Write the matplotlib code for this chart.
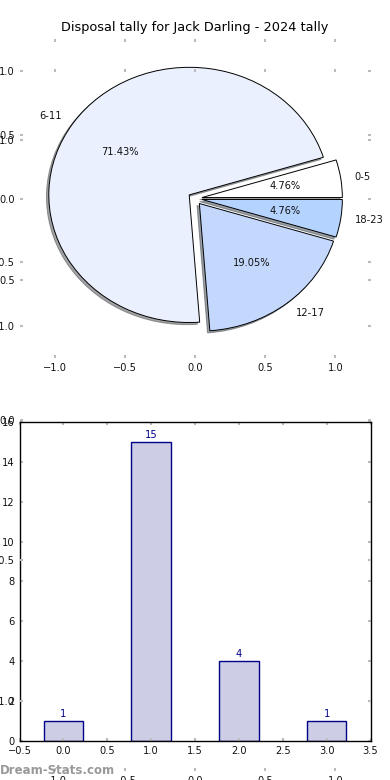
import matplotlib
matplotlib.use("Agg")
import matplotlib.pyplot as plt

# Data
categories = ["0-5", "6-11", "12-17", "18-23"]
counts = [1, 15, 4, 1]
bar_positions = [0, 1, 2, 3]
pie_colors = ["#ffffff", "#eaf0fe", "#c4d8fe", "#b4d4ff"]
explode = [0.05, 0.05, 0.05, 0.05]
title = "Disposal tally for Jack Darling - 2024 tally"
watermark = "Dream-Stats.com"
pie_ticks = [-1.0, -0.5, 0.0, 0.5, 1.0]

TICK_FS = 7.1
TICK_COLOR = "#bbbbbb"

fig = plt.figure(figsize=(3.9, 7.8), dpi=100)
fig.patch.set_facecolor("white")


def style_ticks(ax):
    ax.tick_params(axis="both", which="both", direction="in", top=True, right=True,
                   color=TICK_COLOR, labelcolor="#111111", labelsize=TICK_FS,
                   length=2.5, width=1.5, pad=3.5)


# Pie axes
ax_pie = fig.add_axes([0.05, 0.541, 0.9, 0.409])
ax_pie.pie(counts, labels=categories, colors=pie_colors, explode=explode,
           autopct="%.2f%%", shadow={"ox": -0.012, "oy": -0.012},
           startangle=0, counterclock=True,
           wedgeprops=dict(edgecolor="black", linewidth=0.7),
           textprops=dict(fontsize=TICK_FS, color="#111111"), frame=True)
ax_pie.set_xlim(-1.25, 1.25)
ax_pie.set_ylim(-1.25, 1.25)
ax_pie.set_aspect("auto")
ax_pie.set_xticks(pie_ticks)
ax_pie.set_yticks(pie_ticks)
ax_pie.set_frame_on(False)
style_ticks(ax_pie)
ax_pie.set_title(title, fontsize=9.3, color="black", pad=6)

# Bar axes
ax_bar = fig.add_axes([0.05, 0.05, 0.9, 0.409])
ax_bar.bar(bar_positions, counts, width=0.45, color="#cdcde6", edgecolor="#000088",
           linewidth=1.0)
for x, v in zip(bar_positions, counts):
    ax_bar.text(x, v + 0.12, str(v), ha="center", va="bottom", fontsize=TICK_FS,
                color="#000088")
ax_bar.set_xlim(-0.5, 3.5)
ax_bar.set_ylim(0, 16)
ax_bar.set_xticks([-0.5, 0.0, 0.5, 1.0, 1.5, 2.0, 2.5, 3.0, 3.5])
ax_bar.set_yticks([0, 2, 4, 6, 8, 10, 12, 14, 16])
for sp in ax_bar.spines.values():
    sp.set_color("black")
    sp.set_linewidth(1.0)
style_ticks(ax_bar)

# Background empty axes (frameless) with ticks
ax_bg = fig.add_axes([0.05, 0.012, 0.9, 0.899])
ax_bg.set_xlim(-1.25, 1.25)
ax_bg.set_ylim(-1.25, 1.25)
ax_bg.set_xticks(pie_ticks)
ax_bg.set_yticks(pie_ticks)
ax_bg.set_frame_on(False)
ax_bg.patch.set_alpha(0)
style_ticks(ax_bg)

fig.text(0.0, 0.0128, watermark, ha="left", va="center", fontsize=8.5,
         color="#999999", fontweight="bold")

fig.savefig("out.png", dpi=100)
